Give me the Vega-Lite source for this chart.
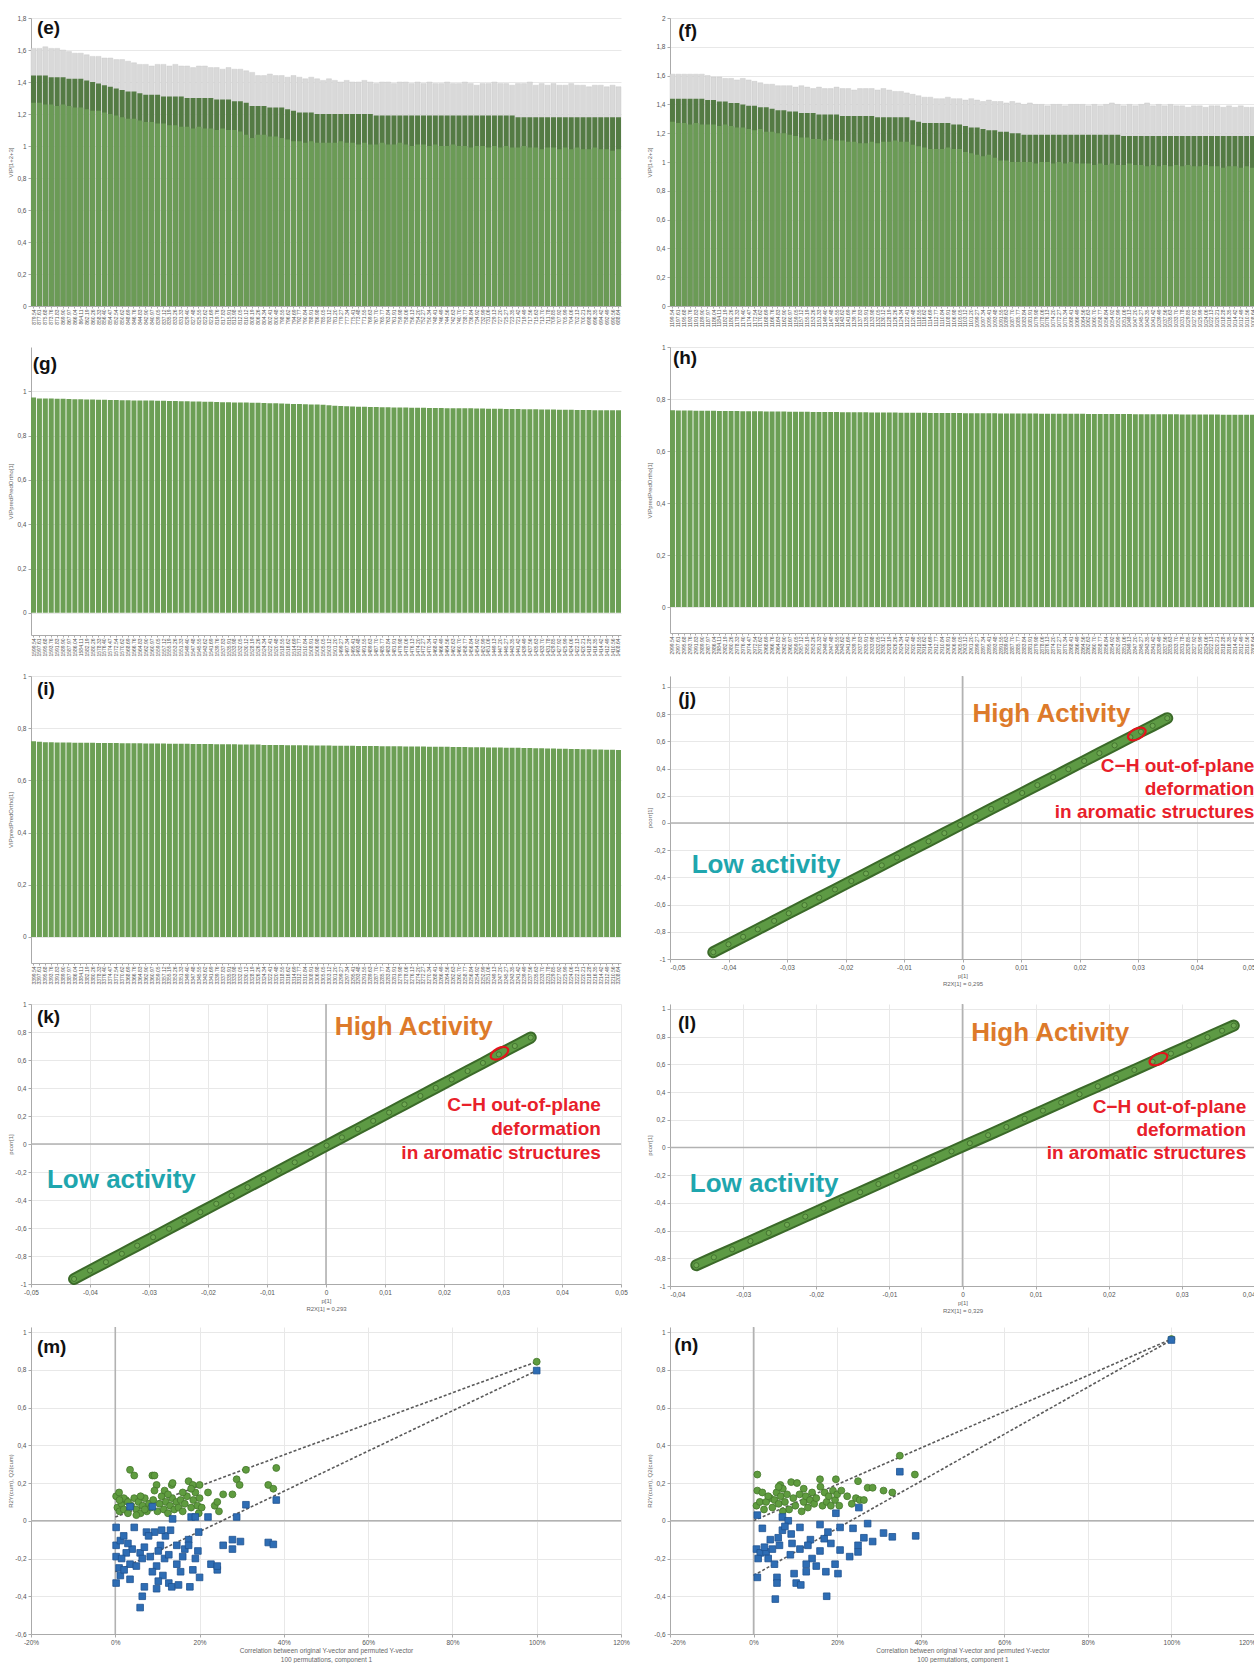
{
  "$schema": "https://vega.github.io/schema/vega-lite/v6.json",
  "padding": {"left": 7, "top": 15, "right": 0, "bottom": 0},
  "background": "white",
  "bounds": "flush",
  "columns": 2,
  "spacing": {"row": 41, "column": 49},
  "config": {
    "view": {"stroke": null},
    "font": "Liberation Sans",
    "locale": {"number": {"decimal": ",", "thousands": ".", "grouping": [3], "currency": ["", " €"], "minus": "-"}},
    "axis": {"labelFontSize": 6.5, "labelColor": "#555", "titleFontSize": 6, "titleFontWeight": "normal", "titleColor": "#666", "domainColor": "#aaa", "tickColor": "#aaa", "tickSize": 3, "gridColor": "#e8e8e8", "labelPadding": 2, "labelFlush": false, "labelOverlap": false},
    "axisY": {"minExtent": 16, "maxExtent": 16, "titlePadding": 2},
    "axisX": {"titlePadding": 2}
  },
  "datasets": {
    "e": [
      {"w":"879.54","v":1.27,"d":1.44,"u":1.61},{"w":"877.61","v":1.27,"d":1.44,"u":1.61},{"w":"875.68","v":1.26,"d":1.44,"u":1.62},{"w":"873.76","v":1.26,"d":1.43,"u":1.61},{"w":"871.83","v":1.25,"d":1.43,"u":1.61},
      {"w":"869.90","v":1.26,"d":1.43,"u":1.60},{"w":"867.97","v":1.25,"d":1.42,"u":1.59},{"w":"866.04","v":1.24,"d":1.42,"u":1.58},{"w":"864.11","v":1.24,"d":1.42,"u":1.58},{"w":"862.19","v":1.23,"d":1.41,"u":1.57},
      {"w":"860.26","v":1.22,"d":1.40,"u":1.56},{"w":"858.33","v":1.22,"d":1.39,"u":1.56},{"w":"856.40","v":1.21,"d":1.38,"u":1.55},{"w":"854.47","v":1.20,"d":1.37,"u":1.55},{"w":"852.54","v":1.19,"d":1.36,"u":1.54},
      {"w":"850.62","v":1.18,"d":1.35,"u":1.54},{"w":"848.69","v":1.17,"d":1.34,"u":1.53},{"w":"846.76","v":1.17,"d":1.34,"u":1.52},{"w":"844.83","v":1.16,"d":1.33,"u":1.51},{"w":"842.90","v":1.15,"d":1.32,"u":1.51},
      {"w":"840.97","v":1.15,"d":1.32,"u":1.50},{"w":"839.05","v":1.14,"d":1.32,"u":1.51},{"w":"837.12","v":1.14,"d":1.31,"u":1.51},{"w":"835.19","v":1.13,"d":1.31,"u":1.50},{"w":"833.26","v":1.13,"d":1.31,"u":1.51},
      {"w":"831.33","v":1.12,"d":1.31,"u":1.50},{"w":"829.40","v":1.12,"d":1.30,"u":1.50},{"w":"827.48","v":1.11,"d":1.30,"u":1.49},{"w":"825.55","v":1.12,"d":1.30,"u":1.50},{"w":"823.62","v":1.11,"d":1.30,"u":1.50},
      {"w":"821.69","v":1.11,"d":1.30,"u":1.49},{"w":"819.76","v":1.10,"d":1.29,"u":1.49},{"w":"817.83","v":1.11,"d":1.29,"u":1.48},{"w":"815.91","v":1.10,"d":1.29,"u":1.49},{"w":"813.98","v":1.10,"d":1.28,"u":1.48},
      {"w":"812.05","v":1.09,"d":1.28,"u":1.48},{"w":"810.12","v":1.07,"d":1.27,"u":1.47},{"w":"808.19","v":1.05,"d":1.25,"u":1.46},{"w":"806.26","v":1.07,"d":1.25,"u":1.44},{"w":"804.34","v":1.07,"d":1.25,"u":1.44},
      {"w":"802.41","v":1.06,"d":1.24,"u":1.45},{"w":"800.48","v":1.06,"d":1.24,"u":1.44},{"w":"798.55","v":1.05,"d":1.24,"u":1.44},{"w":"796.62","v":1.04,"d":1.23,"u":1.43},{"w":"794.69","v":1.03,"d":1.22,"u":1.44},
      {"w":"792.77","v":1.03,"d":1.21,"u":1.43},{"w":"790.84","v":1.02,"d":1.21,"u":1.42},{"w":"788.91","v":1.03,"d":1.21,"u":1.43},{"w":"786.98","v":1.02,"d":1.20,"u":1.42},{"w":"785.05","v":1.02,"d":1.20,"u":1.41},
      {"w":"783.12","v":1.02,"d":1.20,"u":1.42},{"w":"781.20","v":1.02,"d":1.20,"u":1.41},{"w":"779.27","v":1.03,"d":1.20,"u":1.40},{"w":"777.34","v":1.02,"d":1.20,"u":1.41},{"w":"775.41","v":1.02,"d":1.20,"u":1.40},
      {"w":"773.48","v":1.01,"d":1.20,"u":1.40},{"w":"771.55","v":1.02,"d":1.20,"u":1.41},{"w":"769.63","v":1.01,"d":1.20,"u":1.40},{"w":"767.70","v":1.01,"d":1.19,"u":1.39},{"w":"765.77","v":1.02,"d":1.19,"u":1.40},
      {"w":"763.84","v":1.01,"d":1.19,"u":1.40},{"w":"761.91","v":1.01,"d":1.19,"u":1.39},{"w":"759.98","v":1.02,"d":1.19,"u":1.40},{"w":"758.06","v":1.01,"d":1.19,"u":1.40},{"w":"756.13","v":1.00,"d":1.19,"u":1.39},
      {"w":"754.20","v":1.01,"d":1.19,"u":1.40},{"w":"752.27","v":1.01,"d":1.19,"u":1.39},{"w":"750.34","v":1.00,"d":1.19,"u":1.40},{"w":"748.41","v":1.01,"d":1.19,"u":1.39},{"w":"746.49","v":1.00,"d":1.19,"u":1.39},
      {"w":"744.56","v":1.00,"d":1.19,"u":1.40},{"w":"742.63","v":1.01,"d":1.19,"u":1.39},{"w":"740.70","v":1.00,"d":1.19,"u":1.39},{"w":"738.77","v":1.00,"d":1.19,"u":1.40},{"w":"736.84","v":0.99,"d":1.19,"u":1.39},
      {"w":"734.92","v":1.00,"d":1.19,"u":1.38},{"w":"732.99","v":1.00,"d":1.19,"u":1.39},{"w":"731.06","v":0.99,"d":1.19,"u":1.39},{"w":"729.13","v":1.00,"d":1.19,"u":1.40},{"w":"727.20","v":0.99,"d":1.19,"u":1.39},
      {"w":"725.27","v":1.00,"d":1.19,"u":1.39},{"w":"723.35","v":0.99,"d":1.19,"u":1.38},{"w":"721.42","v":0.99,"d":1.18,"u":1.39},{"w":"719.49","v":1.00,"d":1.18,"u":1.39},{"w":"717.56","v":0.99,"d":1.18,"u":1.40},
      {"w":"715.63","v":0.99,"d":1.18,"u":1.38},{"w":"713.70","v":0.98,"d":1.18,"u":1.39},{"w":"711.78","v":0.99,"d":1.18,"u":1.38},{"w":"709.85","v":0.99,"d":1.18,"u":1.39},{"w":"707.92","v":0.98,"d":1.18,"u":1.38},
      {"w":"705.99","v":0.99,"d":1.18,"u":1.38},{"w":"704.06","v":0.98,"d":1.18,"u":1.39},{"w":"702.13","v":0.99,"d":1.18,"u":1.38},{"w":"700.21","v":0.98,"d":1.18,"u":1.38},{"w":"698.28","v":0.98,"d":1.18,"u":1.37},
      {"w":"696.35","v":0.99,"d":1.18,"u":1.38},{"w":"694.42","v":0.98,"d":1.18,"u":1.38},{"w":"692.49","v":0.98,"d":1.18,"u":1.37},{"w":"690.56","v":0.97,"d":1.18,"u":1.38},{"w":"688.64","v":0.98,"d":1.18,"u":1.37}
    ],
    "f": [
      {"w":"1199.54","v":1.28,"d":1.44,"u":1.61},{"w":"1197.61","v":1.27,"d":1.44,"u":1.61},{"w":"1195.68","v":1.27,"d":1.44,"u":1.61},{"w":"1193.76","v":1.26,"d":1.44,"u":1.61},{"w":"1191.83","v":1.27,"d":1.44,"u":1.61},
      {"w":"1189.90","v":1.26,"d":1.44,"u":1.61},{"w":"1187.97","v":1.26,"d":1.43,"u":1.60},{"w":"1186.04","v":1.26,"d":1.43,"u":1.59},{"w":"1184.11","v":1.25,"d":1.42,"u":1.59},{"w":"1182.19","v":1.26,"d":1.42,"u":1.58},
      {"w":"1180.26","v":1.25,"d":1.41,"u":1.58},{"w":"1178.33","v":1.24,"d":1.41,"u":1.57},{"w":"1176.40","v":1.24,"d":1.40,"u":1.58},{"w":"1174.47","v":1.23,"d":1.39,"u":1.57},{"w":"1172.54","v":1.22,"d":1.39,"u":1.56},
      {"w":"1170.62","v":1.23,"d":1.38,"u":1.55},{"w":"1168.69","v":1.21,"d":1.38,"u":1.54},{"w":"1166.76","v":1.21,"d":1.37,"u":1.54},{"w":"1164.83","v":1.20,"d":1.36,"u":1.53},{"w":"1162.90","v":1.20,"d":1.36,"u":1.53},
      {"w":"1160.97","v":1.19,"d":1.35,"u":1.53},{"w":"1159.05","v":1.18,"d":1.35,"u":1.52},{"w":"1157.12","v":1.17,"d":1.34,"u":1.53},{"w":"1155.19","v":1.17,"d":1.34,"u":1.52},{"w":"1153.26","v":1.16,"d":1.34,"u":1.51},
      {"w":"1151.33","v":1.16,"d":1.33,"u":1.52},{"w":"1149.40","v":1.15,"d":1.33,"u":1.51},{"w":"1147.48","v":1.16,"d":1.33,"u":1.51},{"w":"1145.55","v":1.15,"d":1.33,"u":1.52},{"w":"1143.62","v":1.15,"d":1.32,"u":1.51},
      {"w":"1141.69","v":1.14,"d":1.32,"u":1.51},{"w":"1139.76","v":1.14,"d":1.32,"u":1.50},{"w":"1137.83","v":1.13,"d":1.32,"u":1.51},{"w":"1135.91","v":1.13,"d":1.32,"u":1.51},{"w":"1133.98","v":1.14,"d":1.32,"u":1.51},
      {"w":"1132.05","v":1.13,"d":1.31,"u":1.50},{"w":"1130.12","v":1.14,"d":1.31,"u":1.51},{"w":"1128.19","v":1.14,"d":1.31,"u":1.50},{"w":"1126.26","v":1.15,"d":1.31,"u":1.49},{"w":"1124.34","v":1.14,"d":1.31,"u":1.49},
      {"w":"1122.41","v":1.14,"d":1.31,"u":1.48},{"w":"1120.48","v":1.12,"d":1.29,"u":1.47},{"w":"1118.55","v":1.11,"d":1.28,"u":1.46},{"w":"1116.62","v":1.10,"d":1.27,"u":1.45},{"w":"1114.69","v":1.09,"d":1.27,"u":1.45},
      {"w":"1112.77","v":1.09,"d":1.27,"u":1.44},{"w":"1110.84","v":1.09,"d":1.27,"u":1.44},{"w":"1108.91","v":1.10,"d":1.27,"u":1.45},{"w":"1106.98","v":1.09,"d":1.26,"u":1.44},{"w":"1105.05","v":1.09,"d":1.26,"u":1.44},
      {"w":"1103.12","v":1.07,"d":1.25,"u":1.43},{"w":"1101.20","v":1.06,"d":1.24,"u":1.44},{"w":"1099.27","v":1.05,"d":1.24,"u":1.43},{"w":"1097.34","v":1.04,"d":1.23,"u":1.42},{"w":"1095.41","v":1.05,"d":1.22,"u":1.43},
      {"w":"1093.48","v":1.03,"d":1.22,"u":1.42},{"w":"1091.55","v":1.01,"d":1.21,"u":1.42},{"w":"1089.63","v":1.01,"d":1.21,"u":1.41},{"w":"1087.70","v":1.00,"d":1.20,"u":1.42},{"w":"1085.77","v":1.00,"d":1.20,"u":1.41},
      {"w":"1083.84","v":1.00,"d":1.19,"u":1.40},{"w":"1081.91","v":1.00,"d":1.19,"u":1.41},{"w":"1079.98","v":0.99,"d":1.19,"u":1.40},{"w":"1078.06","v":1.00,"d":1.19,"u":1.40},{"w":"1076.13","v":1.00,"d":1.19,"u":1.39},
      {"w":"1074.20","v":0.99,"d":1.19,"u":1.40},{"w":"1072.27","v":1.00,"d":1.19,"u":1.40},{"w":"1070.34","v":0.99,"d":1.19,"u":1.39},{"w":"1068.41","v":1.00,"d":1.19,"u":1.40},{"w":"1066.49","v":0.99,"d":1.19,"u":1.40},
      {"w":"1064.56","v":0.99,"d":1.19,"u":1.40},{"w":"1062.63","v":0.99,"d":1.19,"u":1.39},{"w":"1060.70","v":0.98,"d":1.19,"u":1.40},{"w":"1058.77","v":0.99,"d":1.19,"u":1.39},{"w":"1056.84","v":0.98,"d":1.19,"u":1.40},
      {"w":"1054.92","v":0.99,"d":1.19,"u":1.41},{"w":"1052.99","v":0.98,"d":1.19,"u":1.40},{"w":"1051.06","v":0.98,"d":1.18,"u":1.39},{"w":"1049.13","v":0.99,"d":1.18,"u":1.40},{"w":"1047.20","v":0.98,"d":1.18,"u":1.39},
      {"w":"1045.27","v":0.98,"d":1.18,"u":1.40},{"w":"1043.35","v":0.97,"d":1.18,"u":1.41},{"w":"1041.42","v":0.98,"d":1.18,"u":1.39},{"w":"1039.49","v":0.97,"d":1.18,"u":1.40},{"w":"1037.56","v":0.98,"d":1.18,"u":1.39},
      {"w":"1035.63","v":0.97,"d":1.18,"u":1.40},{"w":"1033.70","v":0.98,"d":1.18,"u":1.39},{"w":"1031.78","v":0.97,"d":1.18,"u":1.39},{"w":"1029.85","v":0.98,"d":1.18,"u":1.38},{"w":"1027.92","v":0.97,"d":1.18,"u":1.39},
      {"w":"1025.99","v":0.97,"d":1.18,"u":1.39},{"w":"1024.06","v":0.98,"d":1.18,"u":1.38},{"w":"1022.13","v":0.97,"d":1.18,"u":1.39},{"w":"1020.21","v":0.97,"d":1.18,"u":1.39},{"w":"1018.28","v":0.96,"d":1.18,"u":1.38},
      {"w":"1016.35","v":0.97,"d":1.18,"u":1.39},{"w":"1014.42","v":0.97,"d":1.18,"u":1.38},{"w":"1012.49","v":0.96,"d":1.18,"u":1.39},{"w":"1010.56","v":0.97,"d":1.18,"u":1.38},{"w":"1008.64","v":0.96,"d":1.18,"u":1.38}
    ],
    "g": [
      {"w":"1599.54","v":0.972},{"w":"1597.61","v":0.968},{"w":"1595.68","v":0.968},{"w":"1593.76","v":0.967},{"w":"1591.83","v":0.966},{"w":"1589.90","v":0.966},{"w":"1587.97","v":0.965},{"w":"1586.04","v":0.964},{"w":"1584.11","v":0.964},{"w":"1582.19","v":0.963},
      {"w":"1580.26","v":0.963},{"w":"1578.33","v":0.962},{"w":"1576.40","v":0.962},{"w":"1574.47","v":0.961},{"w":"1572.54","v":0.961},{"w":"1570.62","v":0.960},{"w":"1568.69","v":0.960},{"w":"1566.76","v":0.959},{"w":"1564.83","v":0.959},{"w":"1562.90","v":0.958},
      {"w":"1560.97","v":0.958},{"w":"1559.05","v":0.957},{"w":"1557.12","v":0.957},{"w":"1555.19","v":0.956},{"w":"1553.26","v":0.956},{"w":"1551.33","v":0.955},{"w":"1549.40","v":0.955},{"w":"1547.48","v":0.954},{"w":"1545.55","v":0.954},{"w":"1543.62","v":0.953},
      {"w":"1541.69","v":0.953},{"w":"1539.76","v":0.952},{"w":"1537.83","v":0.951},{"w":"1535.91","v":0.951},{"w":"1533.98","v":0.950},{"w":"1532.05","v":0.950},{"w":"1530.12","v":0.949},{"w":"1528.19","v":0.948},{"w":"1526.26","v":0.948},{"w":"1524.34","v":0.947},
      {"w":"1522.41","v":0.946},{"w":"1520.48","v":0.946},{"w":"1518.55","v":0.945},{"w":"1516.62","v":0.944},{"w":"1514.69","v":0.943},{"w":"1512.77","v":0.943},{"w":"1510.84","v":0.942},{"w":"1508.91","v":0.941},{"w":"1506.98","v":0.940},{"w":"1505.05","v":0.939},
      {"w":"1503.12","v":0.937},{"w":"1501.20","v":0.935},{"w":"1499.27","v":0.934},{"w":"1497.34","v":0.932},{"w":"1495.41","v":0.931},{"w":"1493.48","v":0.930},{"w":"1491.55","v":0.930},{"w":"1489.63","v":0.929},{"w":"1487.70","v":0.929},{"w":"1485.77","v":0.928},
      {"w":"1483.84","v":0.928},{"w":"1481.91","v":0.927},{"w":"1479.98","v":0.927},{"w":"1478.06","v":0.927},{"w":"1476.13","v":0.926},{"w":"1474.20","v":0.926},{"w":"1472.27","v":0.926},{"w":"1470.34","v":0.925},{"w":"1468.41","v":0.925},{"w":"1466.49","v":0.925},
      {"w":"1464.56","v":0.924},{"w":"1462.63","v":0.924},{"w":"1460.70","v":0.923},{"w":"1458.77","v":0.923},{"w":"1456.84","v":0.923},{"w":"1454.92","v":0.922},{"w":"1452.99","v":0.922},{"w":"1451.06","v":0.921},{"w":"1449.13","v":0.921},{"w":"1447.20","v":0.921},
      {"w":"1445.27","v":0.920},{"w":"1443.35","v":0.920},{"w":"1441.42","v":0.920},{"w":"1439.49","v":0.919},{"w":"1437.56","v":0.919},{"w":"1435.63","v":0.919},{"w":"1433.70","v":0.918},{"w":"1431.78","v":0.918},{"w":"1429.85","v":0.918},{"w":"1427.92","v":0.917},
      {"w":"1425.99","v":0.917},{"w":"1424.06","v":0.917},{"w":"1422.13","v":0.916},{"w":"1420.21","v":0.916},{"w":"1418.28","v":0.916},{"w":"1416.35","v":0.915},{"w":"1414.42","v":0.915},{"w":"1412.49","v":0.915},{"w":"1410.56","v":0.914},{"w":"1408.64","v":0.914}
    ],
    "h": [
      {"w":"2999.54","v":0.757},{"w":"2997.61","v":0.756},{"w":"2995.68","v":0.756},{"w":"2993.76","v":0.756},{"w":"2991.83","v":0.755},{"w":"2989.90","v":0.755},{"w":"2987.97","v":0.755},{"w":"2986.04","v":0.755},{"w":"2984.11","v":0.754},{"w":"2982.19","v":0.754},
      {"w":"2980.26","v":0.754},{"w":"2978.33","v":0.754},{"w":"2976.40","v":0.753},{"w":"2974.47","v":0.753},{"w":"2972.54","v":0.753},{"w":"2970.62","v":0.753},{"w":"2968.69","v":0.752},{"w":"2966.76","v":0.752},{"w":"2964.83","v":0.752},{"w":"2962.90","v":0.752},
      {"w":"2960.97","v":0.751},{"w":"2959.05","v":0.751},{"w":"2957.12","v":0.751},{"w":"2955.19","v":0.751},{"w":"2953.26","v":0.750},{"w":"2951.33","v":0.750},{"w":"2949.40","v":0.750},{"w":"2947.48","v":0.750},{"w":"2945.55","v":0.750},{"w":"2943.62","v":0.749},
      {"w":"2941.69","v":0.749},{"w":"2939.76","v":0.749},{"w":"2937.83","v":0.749},{"w":"2935.91","v":0.749},{"w":"2933.98","v":0.748},{"w":"2932.05","v":0.748},{"w":"2930.12","v":0.748},{"w":"2928.19","v":0.748},{"w":"2926.26","v":0.748},{"w":"2924.34","v":0.747},
      {"w":"2922.41","v":0.747},{"w":"2920.48","v":0.747},{"w":"2918.55","v":0.747},{"w":"2916.62","v":0.747},{"w":"2914.69","v":0.746},{"w":"2912.77","v":0.746},{"w":"2910.84","v":0.746},{"w":"2908.91","v":0.746},{"w":"2906.98","v":0.746},{"w":"2905.05","v":0.746},
      {"w":"2903.12","v":0.745},{"w":"2901.20","v":0.745},{"w":"2899.27","v":0.745},{"w":"2897.34","v":0.745},{"w":"2895.41","v":0.745},{"w":"2893.48","v":0.745},{"w":"2891.55","v":0.744},{"w":"2889.63","v":0.744},{"w":"2887.70","v":0.744},{"w":"2885.77","v":0.744},
      {"w":"2883.84","v":0.744},{"w":"2881.91","v":0.744},{"w":"2879.98","v":0.744},{"w":"2878.06","v":0.743},{"w":"2876.13","v":0.743},{"w":"2874.20","v":0.743},{"w":"2872.27","v":0.743},{"w":"2870.34","v":0.743},{"w":"2868.41","v":0.743},{"w":"2866.49","v":0.743},
      {"w":"2864.56","v":0.743},{"w":"2862.63","v":0.742},{"w":"2860.70","v":0.742},{"w":"2858.77","v":0.742},{"w":"2856.84","v":0.742},{"w":"2854.92","v":0.742},{"w":"2852.99","v":0.742},{"w":"2851.06","v":0.742},{"w":"2849.13","v":0.742},{"w":"2847.20","v":0.741},
      {"w":"2845.27","v":0.741},{"w":"2843.35","v":0.741},{"w":"2841.42","v":0.741},{"w":"2839.49","v":0.741},{"w":"2837.56","v":0.741},{"w":"2835.63","v":0.741},{"w":"2833.70","v":0.741},{"w":"2831.78","v":0.740},{"w":"2829.85","v":0.740},{"w":"2827.92","v":0.740},
      {"w":"2825.99","v":0.740},{"w":"2824.06","v":0.740},{"w":"2822.13","v":0.740},{"w":"2820.21","v":0.740},{"w":"2818.28","v":0.739},{"w":"2816.35","v":0.739},{"w":"2814.42","v":0.739},{"w":"2812.49","v":0.739},{"w":"2810.56","v":0.739},{"w":"2808.64","v":0.739}
    ],
    "i": [
      {"w":"3399.54","v":0.750},{"w":"3397.61","v":0.748},{"w":"3395.68","v":0.746},{"w":"3393.76","v":0.746},{"w":"3391.83","v":0.745},{"w":"3389.90","v":0.745},{"w":"3387.97","v":0.745},{"w":"3386.04","v":0.744},{"w":"3384.11","v":0.744},{"w":"3382.19","v":0.744},
      {"w":"3380.26","v":0.744},{"w":"3378.33","v":0.743},{"w":"3376.40","v":0.743},{"w":"3374.47","v":0.743},{"w":"3372.54","v":0.743},{"w":"3370.62","v":0.742},{"w":"3368.69","v":0.742},{"w":"3366.76","v":0.742},{"w":"3364.83","v":0.742},{"w":"3362.90","v":0.741},
      {"w":"3360.97","v":0.741},{"w":"3359.05","v":0.741},{"w":"3357.12","v":0.741},{"w":"3355.19","v":0.740},{"w":"3353.26","v":0.740},{"w":"3351.33","v":0.740},{"w":"3349.40","v":0.740},{"w":"3347.48","v":0.739},{"w":"3345.55","v":0.739},{"w":"3343.62","v":0.739},
      {"w":"3341.69","v":0.739},{"w":"3339.76","v":0.738},{"w":"3337.83","v":0.738},{"w":"3335.91","v":0.738},{"w":"3333.98","v":0.738},{"w":"3332.05","v":0.737},{"w":"3330.12","v":0.737},{"w":"3328.19","v":0.737},{"w":"3326.26","v":0.737},{"w":"3324.34","v":0.736},
      {"w":"3322.41","v":0.736},{"w":"3320.48","v":0.736},{"w":"3318.55","v":0.736},{"w":"3316.62","v":0.735},{"w":"3314.69","v":0.735},{"w":"3312.77","v":0.735},{"w":"3310.84","v":0.735},{"w":"3308.91","v":0.734},{"w":"3306.98","v":0.734},{"w":"3305.05","v":0.734},
      {"w":"3303.12","v":0.734},{"w":"3301.20","v":0.733},{"w":"3299.27","v":0.733},{"w":"3297.34","v":0.733},{"w":"3295.41","v":0.733},{"w":"3293.48","v":0.732},{"w":"3291.55","v":0.732},{"w":"3289.63","v":0.732},{"w":"3287.70","v":0.732},{"w":"3285.77","v":0.731},
      {"w":"3283.84","v":0.731},{"w":"3281.91","v":0.731},{"w":"3279.98","v":0.731},{"w":"3278.06","v":0.730},{"w":"3276.13","v":0.730},{"w":"3274.20","v":0.730},{"w":"3272.27","v":0.730},{"w":"3270.34","v":0.729},{"w":"3268.41","v":0.729},{"w":"3266.49","v":0.729},
      {"w":"3264.56","v":0.729},{"w":"3262.63","v":0.728},{"w":"3260.70","v":0.728},{"w":"3258.77","v":0.728},{"w":"3256.84","v":0.727},{"w":"3254.92","v":0.727},{"w":"3252.99","v":0.727},{"w":"3251.06","v":0.726},{"w":"3249.13","v":0.726},{"w":"3247.20","v":0.726},
      {"w":"3245.27","v":0.725},{"w":"3243.35","v":0.725},{"w":"3241.42","v":0.725},{"w":"3239.49","v":0.724},{"w":"3237.56","v":0.724},{"w":"3235.63","v":0.723},{"w":"3233.70","v":0.723},{"w":"3231.78","v":0.722},{"w":"3229.85","v":0.722},{"w":"3227.92","v":0.721},
      {"w":"3225.99","v":0.721},{"w":"3224.06","v":0.720},{"w":"3222.13","v":0.720},{"w":"3220.21","v":0.719},{"w":"3218.28","v":0.719},{"w":"3216.35","v":0.718},{"w":"3214.42","v":0.718},{"w":"3212.49","v":0.717},{"w":"3210.56","v":0.717},{"w":"3208.64","v":0.716}
    ],
    "j": [
      {"x":-0.0426,"y":-0.950},{"x":-0.0400,"y":-0.892},{"x":-0.0375,"y":-0.837},{"x":-0.0350,"y":-0.782},{"x":-0.0322,"y":-0.720},{"x":-0.0297,"y":-0.664},{"x":-0.0270,"y":-0.604},{"x":-0.0245,"y":-0.549},
      {"x":-0.0218,"y":-0.489},{"x":-0.0190,"y":-0.427},{"x":-0.0165,"y":-0.372},{"x":-0.0138,"y":-0.312},{"x":-0.0112,"y":-0.254},{"x":-0.0085,"y":-0.194},{"x":-0.0058,"y":-0.135},{"x":-0.0031,"y":-0.075},
      {"x":-0.0004,"y":-0.015},{"x":0.0022,"y":0.043},{"x":0.0049,"y":0.103},{"x":0.0075,"y":0.160},{"x":0.0102,"y":0.220},{"x":0.0128,"y":0.278},{"x":0.0155,"y":0.337},{"x":0.0181,"y":0.395},
      {"x":0.0208,"y":0.455},{"x":0.0234,"y":0.513},{"x":0.0260,"y":0.570},{"x":0.0287,"y":0.630},{"x":0.0305,"y":0.670},{"x":0.0325,"y":0.714},{"x":0.0350,"y":0.770}
    ],
    "k": [
      {"x":-0.0427,"y":-0.964},{"x":-0.0400,"y":-0.904},{"x":-0.0373,"y":-0.844},{"x":-0.0346,"y":-0.784},{"x":-0.0320,"y":-0.726},{"x":-0.0293,"y":-0.666},{"x":-0.0266,"y":-0.605},{"x":-0.0240,"y":-0.547},
      {"x":-0.0213,"y":-0.487},{"x":-0.0186,"y":-0.427},{"x":-0.0160,"y":-0.369},{"x":-0.0133,"y":-0.309},{"x":-0.0106,"y":-0.249},{"x":-0.0080,"y":-0.191},{"x":-0.0053,"y":-0.131},{"x":-0.0026,"y":-0.071},
      {"x":0.0001,"y":-0.011},{"x":0.0027,"y":0.047},{"x":0.0054,"y":0.107},{"x":0.0080,"y":0.165},{"x":0.0107,"y":0.225},{"x":0.0133,"y":0.283},{"x":0.0160,"y":0.343},{"x":0.0186,"y":0.401},
      {"x":0.0213,"y":0.461},{"x":0.0240,"y":0.521},{"x":0.0266,"y":0.579},{"x":0.0293,"y":0.640},{"x":0.0320,"y":0.700},{"x":0.0347,"y":0.760}
    ],
    "l": [
      {"x":-0.0364,"y":-0.850},{"x":-0.0340,"y":-0.793},{"x":-0.0315,"y":-0.735},{"x":-0.0290,"y":-0.676},{"x":-0.0265,"y":-0.617},{"x":-0.0240,"y":-0.558},{"x":-0.0215,"y":-0.499},{"x":-0.0190,"y":-0.440},
      {"x":-0.0165,"y":-0.381},{"x":-0.0140,"y":-0.323},{"x":-0.0115,"y":-0.264},{"x":-0.0090,"y":-0.205},{"x":-0.0065,"y":-0.146},{"x":-0.0040,"y":-0.087},{"x":-0.0015,"y":-0.028},{"x":0.0010,"y":0.031},
      {"x":0.0035,"y":0.089},{"x":0.0060,"y":0.148},{"x":0.0085,"y":0.207},{"x":0.0110,"y":0.266},{"x":0.0135,"y":0.325},{"x":0.0160,"y":0.384},{"x":0.0185,"y":0.442},{"x":0.0210,"y":0.501},
      {"x":0.0235,"y":0.560},{"x":0.0260,"y":0.619},{"x":0.0285,"y":0.678},{"x":0.0310,"y":0.737},{"x":0.0335,"y":0.796},{"x":0.0355,"y":0.843},{"x":0.0371,"y":0.880}
    ],
    "m_l": [
      {"s":"R2","x":0,"y":0.02},{"s":"R2","x":100,"y":0.843},{"s":"Q2","x":0,"y":-0.27},{"s":"Q2","x":100,"y":0.796}
    ],
    "m_r2": [
      {"x":0.2,"y":0.13},{"x":0.9,"y":0.15},{"x":0.5,"y":0.07},{"x":1.0,"y":0.05},{"x":1.5,"y":0.09},{"x":2.0,"y":0.06},{"x":2.5,"y":0.11},{"x":3.0,"y":0.04},{"x":3.5,"y":0.27},{"x":4.5,"y":0.24},
      {"x":3.8,"y":0.08},{"x":4.5,"y":0.12},{"x":5.0,"y":0.06},{"x":5.5,"y":0.10},{"x":6.0,"y":0.04},{"x":6.5,"y":0.08},{"x":7.0,"y":0.12},{"x":7.5,"y":0.05},{"x":8.0,"y":0.09},{"x":8.8,"y":0.24},
      {"x":9.3,"y":0.24},{"x":9.8,"y":0.19},{"x":9.3,"y":0.16},{"x":8.5,"y":0.07},{"x":9.0,"y":0.11},{"x":10.0,"y":0.05},{"x":10.5,"y":0.09},{"x":11.0,"y":0.13},{"x":11.7,"y":0.16},{"x":11.5,"y":0.06},
      {"x":12.0,"y":0.10},{"x":12.5,"y":0.04},{"x":13.0,"y":0.08},{"x":13.4,"y":0.19},{"x":13.6,"y":0.20},{"x":13.5,"y":0.12},{"x":14.0,"y":0.06},{"x":14.5,"y":0.10},{"x":15.0,"y":0.07},{"x":15.5,"y":0.11},
      {"x":16.0,"y":0.05},{"x":16.5,"y":0.09},{"x":17.0,"y":0.13},{"x":17.4,"y":0.21},{"x":18.0,"y":0.07},{"x":18.4,"y":0.19},{"x":18.5,"y":0.11},{"x":19.0,"y":0.15},{"x":19.5,"y":0.08},{"x":20.0,"y":0.19},
      {"x":20.0,"y":0.12},{"x":19.8,"y":0.04},{"x":22.0,"y":0.15},{"x":23.6,"y":0.08},{"x":24.2,"y":0.10},{"x":24.6,"y":0.05},{"x":25.6,"y":0.14},{"x":27.8,"y":0.14},{"x":28.8,"y":0.22},{"x":29.5,"y":0.19},
      {"x":31.0,"y":0.27},{"x":36.3,"y":0.19},{"x":37.5,"y":0.17},{"x":38.2,"y":0.28},{"x":2.0,"y":0.12},{"x":6.0,"y":0.13},{"x":3.0,"y":0.10},{"x":1.0,"y":0.11},{"x":16.0,"y":0.15},{"x":18.0,"y":0.17},
      {"x":12.5,"y":0.14},{"x":7.0,"y":0.06},{"x":5.0,"y":0.03},{"x":20.5,"y":0.07},{"x":100,"y":0.843}
    ],
    "m_q2": [
      {"x":3.5,"y":0.075},{"x":8.8,"y":0.075},{"x":31.0,"y":0.085},{"x":38.2,"y":0.11},{"x":28.8,"y":0.02},{"x":22.0,"y":0.02},{"x":18.0,"y":0.02},{"x":19.0,"y":0.02},{"x":13.6,"y":0.01},{"x":0.2,"y":-0.035},
      {"x":4.5,"y":-0.035},{"x":7.4,"y":-0.06},{"x":9.3,"y":-0.06},{"x":11.9,"y":-0.08},{"x":13.1,"y":-0.05},{"x":19.8,"y":-0.06},{"x":17.4,"y":-0.10},{"x":25.6,"y":-0.13},{"x":27.8,"y":-0.10},{"x":27.8,"y":-0.15},
      {"x":29.7,"y":-0.11},{"x":36.3,"y":-0.115},{"x":37.5,"y":-0.125},{"x":0.2,"y":-0.13},{"x":1.2,"y":-0.105},{"x":0.2,"y":-0.19},{"x":0.2,"y":-0.33},{"x":0.9,"y":-0.25},{"x":1.2,"y":-0.29},{"x":3.5,"y":-0.23},
      {"x":3.5,"y":-0.31},{"x":5.9,"y":-0.17},{"x":6.9,"y":-0.35},{"x":6.4,"y":-0.40},{"x":5.9,"y":-0.46},{"x":9.8,"y":-0.36},{"x":9.8,"y":-0.24},{"x":11.3,"y":-0.29},{"x":12.7,"y":-0.33},{"x":11.7,"y":-0.20},
      {"x":13.4,"y":-0.35},{"x":15.0,"y":-0.34},{"x":17.7,"y":-0.35},{"x":14.6,"y":-0.23},{"x":15.5,"y":-0.27},{"x":18.4,"y":-0.26},{"x":19.0,"y":-0.20},{"x":19.6,"y":-0.16},{"x":20.0,"y":-0.30},{"x":22.7,"y":-0.23},
      {"x":24.2,"y":-0.26},{"x":24.2,"y":-0.24},{"x":16.5,"y":-0.15},{"x":17.4,"y":-0.13},{"x":14.6,"y":-0.13},{"x":10.7,"y":-0.13},{"x":6.9,"y":-0.14},{"x":4.0,"y":-0.15},{"x":2.6,"y":-0.17},{"x":8.3,"y":-0.19},
      {"x":6.4,"y":-0.20},{"x":5.0,"y":-0.24},{"x":2.1,"y":-0.26},{"x":10.2,"y":-0.16},{"x":12.7,"y":-0.18},{"x":8.8,"y":-0.27},{"x":10.2,"y":-0.32},{"x":7.9,"y":-0.08},{"x":1.5,"y":-0.20},{"x":3.0,"y":-0.12},
      {"x":11.0,"y":-0.05},{"x":16.0,"y":-0.19},{"x":2.0,"y":-0.08},{"x":100,"y":0.796}
    ],
    "n_l": [
      {"s":"R2","x":0,"y":0.0},{"s":"R2","x":100,"y":0.963},{"s":"Q2","x":0,"y":-0.29},{"s":"Q2","x":100,"y":0.958}
    ],
    "n_r2": [
      {"x":0.9,"y":0.245},{"x":35.0,"y":0.345},{"x":38.6,"y":0.245},{"x":31.1,"y":0.16},{"x":33.2,"y":0.15},{"x":27.3,"y":0.175},{"x":28.5,"y":0.175},{"x":25.0,"y":0.21},{"x":19.7,"y":0.22},{"x":15.9,"y":0.22},
      {"x":9.0,"y":0.205},{"x":10.4,"y":0.20},{"x":6.4,"y":0.19},{"x":0.9,"y":0.16},{"x":2.1,"y":0.15},{"x":4.0,"y":0.12},{"x":22.4,"y":0.13},{"x":24.5,"y":0.12},{"x":25.4,"y":0.11},{"x":26.4,"y":0.11},
      {"x":23.5,"y":0.09},{"x":0.7,"y":0.08},{"x":1.5,"y":0.10},{"x":2.5,"y":0.06},{"x":3.0,"y":0.10},{"x":3.5,"y":0.13},{"x":4.5,"y":0.07},{"x":5.0,"y":0.11},{"x":5.5,"y":0.15},{"x":6.0,"y":0.09},
      {"x":6.5,"y":0.13},{"x":7.0,"y":0.17},{"x":7.5,"y":0.10},{"x":8.0,"y":0.14},{"x":8.5,"y":0.06},{"x":9.5,"y":0.12},{"x":10.0,"y":0.08},{"x":11.0,"y":0.14},{"x":11.5,"y":0.05},{"x":12.0,"y":0.10},
      {"x":12.5,"y":0.13},{"x":13.0,"y":0.07},{"x":13.5,"y":0.11},{"x":14.0,"y":0.15},{"x":14.5,"y":0.09},{"x":15.0,"y":0.12},{"x":16.5,"y":0.08},{"x":17.0,"y":0.15},{"x":17.5,"y":0.10},{"x":18.0,"y":0.13},
      {"x":18.5,"y":0.08},{"x":19.0,"y":0.16},{"x":19.5,"y":0.11},{"x":20.0,"y":0.14},{"x":20.5,"y":0.08},{"x":21.0,"y":0.16},{"x":6.0,"y":0.18},{"x":7.0,"y":0.05},{"x":12.0,"y":0.17},{"x":16.0,"y":0.18},
      {"x":100,"y":0.963}
    ],
    "n_q2": [
      {"x":35.0,"y":0.26},{"x":25.2,"y":0.07},{"x":19.7,"y":0.04},{"x":0.9,"y":0.03},{"x":6.9,"y":0.02},{"x":27.3,"y":-0.015},{"x":31.1,"y":-0.065},{"x":33.2,"y":-0.085},{"x":38.8,"y":-0.08},{"x":28.5,"y":-0.11},
      {"x":26.4,"y":-0.09},{"x":23.8,"y":-0.04},{"x":20.7,"y":-0.035},{"x":25.0,"y":-0.13},{"x":25.0,"y":-0.165},{"x":23.0,"y":-0.19},{"x":20.7,"y":-0.155},{"x":19.5,"y":-0.23},{"x":20.2,"y":-0.28},{"x":17.3,"y":-0.27},
      {"x":17.5,"y":-0.40},{"x":5.2,"y":-0.415},{"x":0.9,"y":-0.30},{"x":5.6,"y":-0.30},{"x":5.6,"y":-0.33},{"x":9.7,"y":-0.28},{"x":10.2,"y":-0.33},{"x":11.3,"y":-0.34},{"x":12.6,"y":-0.27},{"x":14.0,"y":-0.20},
      {"x":15.0,"y":-0.24},{"x":12.6,"y":-0.23},{"x":11.1,"y":-0.15},{"x":9.2,"y":-0.12},{"x":8.8,"y":-0.18},{"x":13.6,"y":-0.10},{"x":15.9,"y":-0.16},{"x":16.9,"y":-0.095},{"x":17.8,"y":-0.06},{"x":15.9,"y":-0.02},
      {"x":11.1,"y":-0.035},{"x":8.3,"y":0.0},{"x":6.9,"y":-0.05},{"x":5.9,"y":-0.09},{"x":4.0,"y":-0.10},{"x":2.1,"y":-0.04},{"x":0.7,"y":-0.15},{"x":1.6,"y":-0.17},{"x":3.0,"y":-0.165},{"x":3.5,"y":-0.20},
      {"x":5.0,"y":-0.23},{"x":4.5,"y":-0.15},{"x":6.2,"y":-0.13},{"x":1.1,"y":-0.20},{"x":2.6,"y":-0.14},{"x":7.5,"y":-0.03},{"x":9.0,"y":-0.07},{"x":13.0,"y":-0.13},{"x":18.5,"y":-0.12},{"x":100,"y":0.958}
    ]
  },
  "concat": [
    {
      "width": 590, "height": 288,
      "data": {"name": "e"},
      "layer": [
        {"layer": [
          {"mark": {"type": "bar", "color": "#d9d9d9", "stroke": "#c4c4c4", "strokeWidth": 0.4},
           "encoding": {
             "x": {"field": "w", "type": "ordinal", "sort": null, "scale": {"paddingInner": 0.15, "paddingOuter": 0}, "axis": {"title": null, "labelAngle": 270, "labelFontSize": 5, "labelPadding": 1, "tickSize": 2, "labelLimit": 40}},
             "y": {"field": "u", "type": "quantitative", "title": "VIP[1+2+3]", "scale": {"domain": [0, 1.8], "nice": false}, "axis": {"values": [0, 0.2, 0.4, 0.6, 0.8, 1, 1.2, 1.4, 1.6, 1.8], "tickCount": 30, "format": "~g", "grid": true}}}},
          {"mark": {"type": "bar", "color": "#547b44"},
           "encoding": {"x": {"field": "w", "type": "ordinal", "sort": null}, "y": {"field": "d", "type": "quantitative", "title": "VIP[1+2+3]"}}},
          {"mark": {"type": "bar", "color": "#6b9b56"},
           "encoding": {"x": {"field": "w", "type": "ordinal", "sort": null}, "y": {"field": "v", "type": "quantitative", "title": "VIP[1+2+3]"}}}
        ]},
        {"data": {"values": [{}]},
         "mark": {"type": "text", "text": "(e)", "fontWeight": "bold", "fontSize": 19, "align": "left", "baseline": "middle", "color": "#111"},
         "encoding": {"x": {"datum": 0.01, "type": "quantitative", "scale": {"domain": [0, 1]}, "axis": null}, "y": {"datum": 1.74, "type": "quantitative"}}}
      ],
      "resolve": {"scale": {"x": "independent"}}
    },
    {
      "width": 585, "height": 288,
      "data": {"name": "f"},
      "layer": [
        {"layer": [
          {"mark": {"type": "bar", "color": "#d9d9d9", "stroke": "#c4c4c4", "strokeWidth": 0.4},
           "encoding": {
             "x": {"field": "w", "type": "ordinal", "sort": null, "scale": {"paddingInner": 0.15, "paddingOuter": 0}, "axis": {"title": null, "labelAngle": 270, "labelFontSize": 5, "labelPadding": 1, "tickSize": 2, "labelLimit": 40}},
             "y": {"field": "u", "type": "quantitative", "title": "VIP[1+2+3]", "scale": {"domain": [0, 2], "nice": false}, "axis": {"values": [0, 0.2, 0.4, 0.6, 0.8, 1, 1.2, 1.4, 1.6, 1.8, 2], "tickCount": 30, "format": "~g", "grid": true}}}},
          {"mark": {"type": "bar", "color": "#547b44"},
           "encoding": {"x": {"field": "w", "type": "ordinal", "sort": null}, "y": {"field": "d", "type": "quantitative", "title": "VIP[1+2+3]"}}},
          {"mark": {"type": "bar", "color": "#6b9b56"},
           "encoding": {"x": {"field": "w", "type": "ordinal", "sort": null}, "y": {"field": "v", "type": "quantitative", "title": "VIP[1+2+3]"}}}
        ]},
        {"data": {"values": [{}]},
         "mark": {"type": "text", "text": "(f)", "fontWeight": "bold", "fontSize": 19, "align": "left", "baseline": "middle", "color": "#111"},
         "encoding": {"x": {"datum": 0.014, "type": "quantitative", "scale": {"domain": [0, 1]}, "axis": null}, "y": {"datum": 1.91, "type": "quantitative"}}}
      ],
      "resolve": {"scale": {"x": "independent"}}
    },
    {
      "width": 590, "height": 288,
      "data": {"name": "g"},
      "layer": [
        {"mark": {"type": "bar", "color": "#6c9f55"},
         "encoding": {
           "x": {"field": "w", "type": "ordinal", "sort": null, "scale": {"paddingInner": 0.15, "paddingOuter": 0}, "axis": {"title": null, "labelAngle": 270, "labelFontSize": 5, "labelPadding": 1, "tickSize": 2, "labelLimit": 40}},
           "y": {"field": "v", "type": "quantitative", "title": "VIPpredPredOrtho[1]", "scale": {"domain": [-0.1, 1.2], "nice": false}, "axis": {"values": [0, 0.2, 0.4, 0.6, 0.8, 1], "tickCount": 30, "format": "~g", "grid": true}}}},
        {"data": {"values": [{}]},
         "mark": {"type": "text", "text": "(g)", "fontWeight": "bold", "fontSize": 19, "align": "left", "baseline": "middle", "color": "#111"},
         "encoding": {"x": {"datum": 0.003, "type": "quantitative", "scale": {"domain": [0, 1]}, "axis": null}, "y": {"datum": 1.125, "type": "quantitative"}}}
      ],
      "resolve": {"scale": {"x": "independent"}}
    },
    {
      "width": 585, "height": 286,
      "data": {"name": "h"},
      "layer": [
        {"mark": {"type": "bar", "color": "#6c9f55"},
         "encoding": {
           "x": {"field": "w", "type": "ordinal", "sort": null, "scale": {"paddingInner": 0.15, "paddingOuter": 0}, "axis": {"title": null, "labelAngle": 270, "labelFontSize": 5, "labelPadding": 1, "tickSize": 2, "labelLimit": 40}},
           "y": {"field": "v", "type": "quantitative", "title": "VIPpredPredOrtho[1]", "scale": {"domain": [-0.1, 1], "nice": false}, "axis": {"values": [0, 0.2, 0.4, 0.6, 0.8, 1], "tickCount": 30, "format": "~g", "grid": true}}}},
        {"data": {"values": [{}]},
         "mark": {"type": "text", "text": "(h)", "fontWeight": "bold", "fontSize": 19, "align": "left", "baseline": "middle", "color": "#111"},
         "encoding": {"x": {"datum": 0.005, "type": "quantitative", "scale": {"domain": [0, 1]}, "axis": null}, "y": {"datum": 0.958, "type": "quantitative"}}}
      ],
      "resolve": {"scale": {"x": "independent"}}
    },
    {
      "width": 590, "height": 287,
      "data": {"name": "i"},
      "layer": [
        {"mark": {"type": "bar", "color": "#6c9f55"},
         "encoding": {
           "x": {"field": "w", "type": "ordinal", "sort": null, "scale": {"paddingInner": 0.15, "paddingOuter": 0}, "axis": {"title": null, "labelAngle": 270, "labelFontSize": 5, "labelPadding": 1, "tickSize": 2, "labelLimit": 40}},
           "y": {"field": "v", "type": "quantitative", "title": "VIPpredPredOrtho[1]", "scale": {"domain": [-0.1, 1], "nice": false}, "axis": {"values": [0, 0.2, 0.4, 0.6, 0.8, 1], "tickCount": 30, "format": "~g", "grid": true}}}},
        {"data": {"values": [{}]},
         "mark": {"type": "text", "text": "(i)", "fontWeight": "bold", "fontSize": 19, "align": "left", "baseline": "middle", "color": "#111"},
         "encoding": {"x": {"datum": 0.01, "type": "quantitative", "scale": {"domain": [0, 1]}, "axis": null}, "y": {"datum": 0.95, "type": "quantitative"}}}
      ],
      "resolve": {"scale": {"x": "independent"}}
    },
    {
      "width": 585, "height": 283,
      "layer": [
        {"data": {"values": [{}]}, "mark": {"type": "rule", "color": "#b2b2b2", "strokeWidth": 1.6}, "encoding": {"y": {"datum": 0, "type": "quantitative"}}},
        {"data": {"values": [{}]}, "mark": {"type": "rule", "color": "#b2b2b2", "strokeWidth": 1.6}, "encoding": {"x": {"datum": 0, "type": "quantitative"}}},
        {"data": {"name": "j"}, "mark": {"type": "line", "color": "#3b6a29", "strokeWidth": 12, "strokeCap": "round"},
         "encoding": {
           "x": {"field": "x", "type": "quantitative", "scale": {"domain": [-0.05, 0.05], "nice": false, "zero": false}, "axis": {"values": [-0.05, -0.04, -0.03, -0.02, -0.01, 0, 0.01, 0.02, 0.03, 0.04, 0.05], "tickCount": 30, "format": "~g", "grid": true, "labelFlush": true, "title": ["p[1]", "R2X[1] = 0,295"]}},
           "y": {"field": "y", "type": "quantitative", "scale": {"domain": [-1, 1.08], "nice": false}, "axis": {"values": [-1, -0.8, -0.6, -0.4, -0.2, 0, 0.2, 0.4, 0.6, 0.8, 1], "tickCount": 30, "format": "~g", "grid": true, "title": "pcorr[1]"}}}},
        {"data": {"name": "j"}, "mark": {"type": "line", "color": "#5d9a44", "strokeWidth": 8, "strokeCap": "round"},
         "encoding": {"x": {"field": "x", "type": "quantitative"}, "y": {"field": "y", "type": "quantitative"}}},
        {"data": {"name": "j"}, "mark": {"type": "point", "shape": "circle", "filled": true, "size": 26, "color": "#6ea852", "stroke": "#3b6a29", "strokeWidth": 0.8, "opacity": 1},
         "encoding": {"x": {"field": "x", "type": "quantitative"}, "y": {"field": "y", "type": "quantitative"}}},
        {"data": {"values": [{"x": 0.0298, "y": 0.654}]},
         "mark": {"type": "point", "shape": "M -1 0 A 1 0.55 0 1 1 1 0 A 1 0.55 0 1 1 -1 0 Z", "size": 360, "filled": false, "stroke": "#e3141c", "strokeWidth": 2.2, "angle": -27, "opacity": 1},
         "encoding": {"x": {"field": "x", "type": "quantitative"}, "y": {"field": "y", "type": "quantitative"}}},
        {"data": {"values": [{"x": -0.0486, "y": 0.91, "t": "(j)"}]},
         "mark": {"type": "text", "fontWeight": "bold", "fontSize": 19, "align": "left", "baseline": "middle", "color": "#111"},
         "encoding": {"x": {"field": "x", "type": "quantitative"}, "y": {"field": "y", "type": "quantitative"}, "text": {"field": "t"}}},
        {"data": {"values": [{"x": 0.0017, "y": 0.80, "t": "High Activity"}]},
         "mark": {"type": "text", "fontWeight": "bold", "fontSize": 26, "align": "left", "baseline": "middle", "color": "#dd7a2a"},
         "encoding": {"x": {"field": "x", "type": "quantitative"}, "y": {"field": "y", "type": "quantitative"}, "text": {"field": "t"}}},
        {"data": {"values": [{"x": -0.0463, "y": -0.31, "t": "Low activity"}]},
         "mark": {"type": "text", "fontWeight": "bold", "fontSize": 26, "align": "left", "baseline": "middle", "color": "#1fa6ae"},
         "encoding": {"x": {"field": "x", "type": "quantitative"}, "y": {"field": "y", "type": "quantitative"}, "text": {"field": "t"}}},
        {"data": {"values": [{"x": 0.0499, "y": 0.42, "t": "C−H out-of-plane\ndeformation\nin aromatic structures"}]},
         "mark": {"type": "text", "fontWeight": "bold", "fontSize": 19, "align": "right", "baseline": "middle", "lineBreak": "\n", "lineHeight": 23, "color": "#e8202a"},
         "encoding": {"x": {"field": "x", "type": "quantitative"}, "y": {"field": "y", "type": "quantitative"}, "text": {"field": "t"}}}
      ]
    },
    {
      "width": 590, "height": 280,
      "layer": [
        {"data": {"values": [{}]}, "mark": {"type": "rule", "color": "#b2b2b2", "strokeWidth": 1.6}, "encoding": {"y": {"datum": 0, "type": "quantitative"}}},
        {"data": {"values": [{}]}, "mark": {"type": "rule", "color": "#b2b2b2", "strokeWidth": 1.6}, "encoding": {"x": {"datum": 0, "type": "quantitative"}}},
        {"data": {"name": "k"}, "mark": {"type": "line", "color": "#3b6a29", "strokeWidth": 12, "strokeCap": "round"},
         "encoding": {
           "x": {"field": "x", "type": "quantitative", "scale": {"domain": [-0.05, 0.05], "nice": false, "zero": false}, "axis": {"values": [-0.05, -0.04, -0.03, -0.02, -0.01, 0, 0.01, 0.02, 0.03, 0.04, 0.05], "tickCount": 30, "format": "~g", "grid": true, "title": ["p[1]", "R2X[1] = 0,293"]}},
           "y": {"field": "y", "type": "quantitative", "scale": {"domain": [-1, 1], "nice": false}, "axis": {"values": [-1, -0.8, -0.6, -0.4, -0.2, 0, 0.2, 0.4, 0.6, 0.8, 1], "tickCount": 30, "format": "~g", "grid": true, "title": "pcorr[1]"}}}},
        {"data": {"name": "k"}, "mark": {"type": "line", "color": "#5d9a44", "strokeWidth": 8, "strokeCap": "round"},
         "encoding": {"x": {"field": "x", "type": "quantitative"}, "y": {"field": "y", "type": "quantitative"}}},
        {"data": {"name": "k"}, "mark": {"type": "point", "shape": "circle", "filled": true, "size": 26, "color": "#6ea852", "stroke": "#3b6a29", "strokeWidth": 0.8, "opacity": 1},
         "encoding": {"x": {"field": "x", "type": "quantitative"}, "y": {"field": "y", "type": "quantitative"}}},
        {"data": {"values": [{"x": 0.0294, "y": 0.648}]},
         "mark": {"type": "point", "shape": "M -1 0 A 1 0.55 0 1 1 1 0 A 1 0.55 0 1 1 -1 0 Z", "size": 360, "filled": false, "stroke": "#e3141c", "strokeWidth": 2.2, "angle": -28, "opacity": 1},
         "encoding": {"x": {"field": "x", "type": "quantitative"}, "y": {"field": "y", "type": "quantitative"}}},
        {"data": {"values": [{"x": -0.049, "y": 0.908, "t": "(k)"}]},
         "mark": {"type": "text", "fontWeight": "bold", "fontSize": 19, "align": "left", "baseline": "middle", "color": "#111"},
         "encoding": {"x": {"field": "x", "type": "quantitative"}, "y": {"field": "y", "type": "quantitative"}, "text": {"field": "t"}}},
        {"data": {"values": [{"x": 0.0015, "y": 0.835, "t": "High Activity"}]},
         "mark": {"type": "text", "fontWeight": "bold", "fontSize": 26, "align": "left", "baseline": "middle", "color": "#dd7a2a"},
         "encoding": {"x": {"field": "x", "type": "quantitative"}, "y": {"field": "y", "type": "quantitative"}, "text": {"field": "t"}}},
        {"data": {"values": [{"x": -0.0473, "y": -0.254, "t": "Low activity"}]},
         "mark": {"type": "text", "fontWeight": "bold", "fontSize": 26, "align": "left", "baseline": "middle", "color": "#1fa6ae"},
         "encoding": {"x": {"field": "x", "type": "quantitative"}, "y": {"field": "y", "type": "quantitative"}, "text": {"field": "t"}}},
        {"data": {"values": [{"x": 0.0466, "y": 0.28, "t": "C−H out-of-plane\ndeformation\nin aromatic structures"}]},
         "mark": {"type": "text", "fontWeight": "bold", "fontSize": 19, "align": "right", "baseline": "middle", "lineBreak": "\n", "lineHeight": 24, "color": "#e8202a"},
         "encoding": {"x": {"field": "x", "type": "quantitative"}, "y": {"field": "y", "type": "quantitative"}, "text": {"field": "t"}}}
      ]
    },
    {
      "width": 585, "height": 282,
      "layer": [
        {"data": {"values": [{}]}, "mark": {"type": "rule", "color": "#b2b2b2", "strokeWidth": 1.6}, "encoding": {"y": {"datum": 0, "type": "quantitative"}}},
        {"data": {"values": [{}]}, "mark": {"type": "rule", "color": "#b2b2b2", "strokeWidth": 1.6}, "encoding": {"x": {"datum": 0, "type": "quantitative"}}},
        {"data": {"name": "l"}, "mark": {"type": "line", "color": "#3b6a29", "strokeWidth": 12, "strokeCap": "round"},
         "encoding": {
           "x": {"field": "x", "type": "quantitative", "scale": {"domain": [-0.04, 0.04], "nice": false, "zero": false}, "axis": {"values": [-0.04, -0.03, -0.02, -0.01, 0, 0.01, 0.02, 0.03, 0.04], "tickCount": 30, "format": "~g", "grid": true, "labelFlush": true, "title": ["p[1]", "R2X[1] = 0,329"]}},
           "y": {"field": "y", "type": "quantitative", "scale": {"domain": [-1, 1.036], "nice": false}, "axis": {"values": [-1, -0.8, -0.6, -0.4, -0.2, 0, 0.2, 0.4, 0.6, 0.8, 1], "tickCount": 30, "format": "~g", "grid": true, "title": "pcorr[1]"}}}},
        {"data": {"name": "l"}, "mark": {"type": "line", "color": "#5d9a44", "strokeWidth": 8, "strokeCap": "round"},
         "encoding": {"x": {"field": "x", "type": "quantitative"}, "y": {"field": "y", "type": "quantitative"}}},
        {"data": {"name": "l"}, "mark": {"type": "point", "shape": "circle", "filled": true, "size": 26, "color": "#6ea852", "stroke": "#3b6a29", "strokeWidth": 0.8, "opacity": 1},
         "encoding": {"x": {"field": "x", "type": "quantitative"}, "y": {"field": "y", "type": "quantitative"}}},
        {"data": {"values": [{"x": 0.0268, "y": 0.638}]},
         "mark": {"type": "point", "shape": "M -1 0 A 1 0.55 0 1 1 1 0 A 1 0.55 0 1 1 -1 0 Z", "size": 360, "filled": false, "stroke": "#e3141c", "strokeWidth": 2.2, "angle": -24, "opacity": 1},
         "encoding": {"x": {"field": "x", "type": "quantitative"}, "y": {"field": "y", "type": "quantitative"}}},
        {"data": {"values": [{"x": -0.0389, "y": 0.9, "t": "(l)"}]},
         "mark": {"type": "text", "fontWeight": "bold", "fontSize": 19, "align": "left", "baseline": "middle", "color": "#111"},
         "encoding": {"x": {"field": "x", "type": "quantitative"}, "y": {"field": "y", "type": "quantitative"}, "text": {"field": "t"}}},
        {"data": {"values": [{"x": 0.0012, "y": 0.83, "t": "High Activity"}]},
         "mark": {"type": "text", "fontWeight": "bold", "fontSize": 26, "align": "left", "baseline": "middle", "color": "#dd7a2a"},
         "encoding": {"x": {"field": "x", "type": "quantitative"}, "y": {"field": "y", "type": "quantitative"}, "text": {"field": "t"}}},
        {"data": {"values": [{"x": -0.0373, "y": -0.26, "t": "Low activity"}]},
         "mark": {"type": "text", "fontWeight": "bold", "fontSize": 26, "align": "left", "baseline": "middle", "color": "#1fa6ae"},
         "encoding": {"x": {"field": "x", "type": "quantitative"}, "y": {"field": "y", "type": "quantitative"}, "text": {"field": "t"}}},
        {"data": {"values": [{"x": 0.0388, "y": 0.29, "t": "C−H out-of-plane\ndeformation\nin aromatic structures"}]},
         "mark": {"type": "text", "fontWeight": "bold", "fontSize": 19, "align": "right", "baseline": "middle", "lineBreak": "\n", "lineHeight": 23, "color": "#e8202a"},
         "encoding": {"x": {"field": "x", "type": "quantitative"}, "y": {"field": "y", "type": "quantitative"}, "text": {"field": "t"}}}
      ]
    },
    {
      "width": 590, "height": 307,
      "layer": [
        {"data": {"values": [{}]}, "mark": {"type": "rule", "color": "#b2b2b2", "strokeWidth": 1.6}, "encoding": {"y": {"datum": 0, "type": "quantitative"}}},
        {"data": {"values": [{}]}, "mark": {"type": "rule", "color": "#b2b2b2", "strokeWidth": 1.6}, "encoding": {"x": {"datum": 0, "type": "quantitative"}}},
        {"data": {"name": "m_l"}, "mark": {"type": "line", "color": "#5a5a5a", "strokeWidth": 1.6, "strokeDash": [3, 2]},
         "encoding": {
           "x": {"field": "x", "type": "quantitative", "scale": {"domain": [-20, 120], "nice": false}, "axis": {"values": [-20, 0, 20, 40, 60, 80, 100, 120], "tickCount": 30, "labelExpr": "datum.label + '%'", "grid": true, "titleFontSize": 6.5, "title": ["Correlation between original Y-vector and permuted Y-vector", "100 permutations, component 1"]}},
           "y": {"field": "y", "type": "quantitative", "scale": {"domain": [-0.6, 1.027], "nice": false}, "axis": {"values": [-0.6, -0.4, -0.2, 0, 0.2, 0.4, 0.6, 0.8, 1], "tickCount": 30, "format": "~g", "grid": true, "title": "R2Y(cum), Q2(cum)"}},
           "detail": {"field": "s"}}},
        {"data": {"name": "m_r2"}, "mark": {"type": "point", "shape": "circle", "filled": true, "size": 48, "color": "#5f9c3f", "stroke": "#45772c", "strokeWidth": 0.8, "opacity": 1},
         "encoding": {"x": {"field": "x", "type": "quantitative"}, "y": {"field": "y", "type": "quantitative"}}},
        {"data": {"name": "m_q2"}, "mark": {"type": "point", "shape": "square", "filled": true, "size": 44, "color": "#2e6db4", "stroke": "#1f5391", "strokeWidth": 0.8, "opacity": 1},
         "encoding": {"x": {"field": "x", "type": "quantitative"}, "y": {"field": "y", "type": "quantitative"}}},
        {"data": {"values": [{"x": -18.6, "y": 0.92, "t": "(m)"}]},
         "mark": {"type": "text", "fontWeight": "bold", "fontSize": 19, "align": "left", "baseline": "middle", "color": "#111"},
         "encoding": {"x": {"field": "x", "type": "quantitative"}, "y": {"field": "y", "type": "quantitative"}, "text": {"field": "t"}}}
      ]
    },
    {
      "width": 585, "height": 307,
      "layer": [
        {"data": {"values": [{}]}, "mark": {"type": "rule", "color": "#b2b2b2", "strokeWidth": 1.6}, "encoding": {"y": {"datum": 0, "type": "quantitative"}}},
        {"data": {"values": [{}]}, "mark": {"type": "rule", "color": "#b2b2b2", "strokeWidth": 1.6}, "encoding": {"x": {"datum": 0, "type": "quantitative"}}},
        {"data": {"name": "n_l"}, "mark": {"type": "line", "color": "#5a5a5a", "strokeWidth": 1.6, "strokeDash": [3, 2]},
         "encoding": {
           "x": {"field": "x", "type": "quantitative", "scale": {"domain": [-20, 120], "nice": false}, "axis": {"values": [-20, 0, 20, 40, 60, 80, 100, 120], "tickCount": 30, "labelExpr": "datum.label + '%'", "grid": true, "labelFlush": true, "titleFontSize": 6.5, "title": ["Correlation between original Y-vector and permuted Y-vector", "100 permutations, component 1"]}},
           "y": {"field": "y", "type": "quantitative", "scale": {"domain": [-0.6, 1.027], "nice": false}, "axis": {"values": [-0.6, -0.4, -0.2, 0, 0.2, 0.4, 0.6, 0.8, 1], "tickCount": 30, "format": "~g", "grid": true, "title": "R2Y(cum), Q2(cum)"}},
           "detail": {"field": "s"}}},
        {"data": {"name": "n_r2"}, "mark": {"type": "point", "shape": "circle", "filled": true, "size": 48, "color": "#5f9c3f", "stroke": "#45772c", "strokeWidth": 0.8, "opacity": 1},
         "encoding": {"x": {"field": "x", "type": "quantitative"}, "y": {"field": "y", "type": "quantitative"}}},
        {"data": {"name": "n_q2"}, "mark": {"type": "point", "shape": "square", "filled": true, "size": 44, "color": "#2e6db4", "stroke": "#1f5391", "strokeWidth": 0.8, "opacity": 1},
         "encoding": {"x": {"field": "x", "type": "quantitative"}, "y": {"field": "y", "type": "quantitative"}}},
        {"data": {"values": [{"x": -19.0, "y": 0.93, "t": "(n)"}]},
         "mark": {"type": "text", "fontWeight": "bold", "fontSize": 19, "align": "left", "baseline": "middle", "color": "#111"},
         "encoding": {"x": {"field": "x", "type": "quantitative"}, "y": {"field": "y", "type": "quantitative"}, "text": {"field": "t"}}}
      ]
    }
  ]
}
